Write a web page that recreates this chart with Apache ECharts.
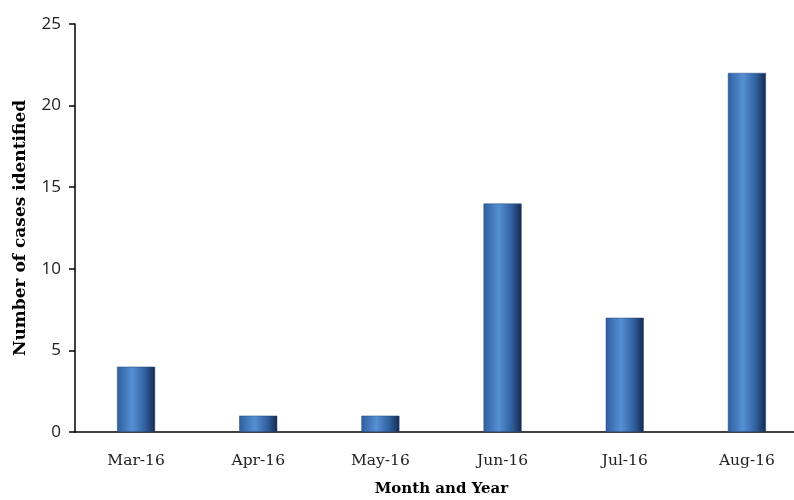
<!DOCTYPE html>
<html>
<head>
<meta charset="utf-8">
<script src="https://cdn.jsdelivr.net/npm/echarts@6/dist/echarts.min.js"></script>
<style>html,body{margin:0;padding:0;background:#fff}#c{width:794px;height:500px}</style>
</head>
<body>
<div id="c"></div>
<script>
const categories = ['Mar-16', 'Apr-16', 'May-16', 'Jun-16', 'Jul-16', 'Aug-16'];
const cases = [4, 1, 1, 14, 7, 22];
const yTicks = [0, 5, 10, 15, 20, 25];

const chart = echarts.init(document.getElementById('c'));
chart.setOption({
  animation: false,
  backgroundColor: '#ffffff',
  grid: { left: 75, top: 24, width: 733, height: 408, containLabel: false, outerBoundsMode: 'none' },
  xAxis: {
    type: 'category',
    data: categories,
    name: 'Month and Year',
    nameLocation: 'middle',
    nameGap: 50,
    nameTextStyle: { fontFamily: 'DejaVu Serif', fontWeight: 'bold', fontSize: 15, color: '#000' },
    axisLine: { lineStyle: { color: '#000', width: 1.5 } },
    axisTick: { show: false },
    axisLabel: { fontFamily: 'DejaVu Serif', fontSize: 15.5, color: '#222', margin: 21 }
  },
  yAxis: {
    type: 'value',
    min: yTicks[0],
    max: yTicks[yTicks.length - 1],
    interval: 5,
    name: 'Number of cases identified',
    nameLocation: 'middle',
    nameGap: 46,
    nameRotate: 90,
    nameTextStyle: { fontFamily: 'DejaVu Serif', fontWeight: 'bold', fontSize: 17, color: '#000' },
    splitLine: { show: false },
    axisLine: { show: true, lineStyle: { color: '#000', width: 1.5 } },
    axisTick: { show: true, length: 6, lineStyle: { color: '#000', width: 1.5 } },
    axisLabel: { fontFamily: 'Open Sans', fontSize: 17, color: '#222', margin: 14 }
  },
  series: [{
    type: 'bar',
    data: cases,
    barWidth: 38,
    itemStyle: {
      color: {
        type: 'linear', x: 0, y: 0, x2: 1, y2: 0,
        colorStops: [
          { offset: 0, color: '#2f5f9f' },
          { offset: 0.4, color: '#5590d4' },
          { offset: 0.75, color: '#2f5e9c' },
          { offset: 1, color: '#14294d' }
        ]
      },
      borderColor: '#25477a',
      borderWidth: 0.5
    }
  }]
});
</script>
</body>
</html>
